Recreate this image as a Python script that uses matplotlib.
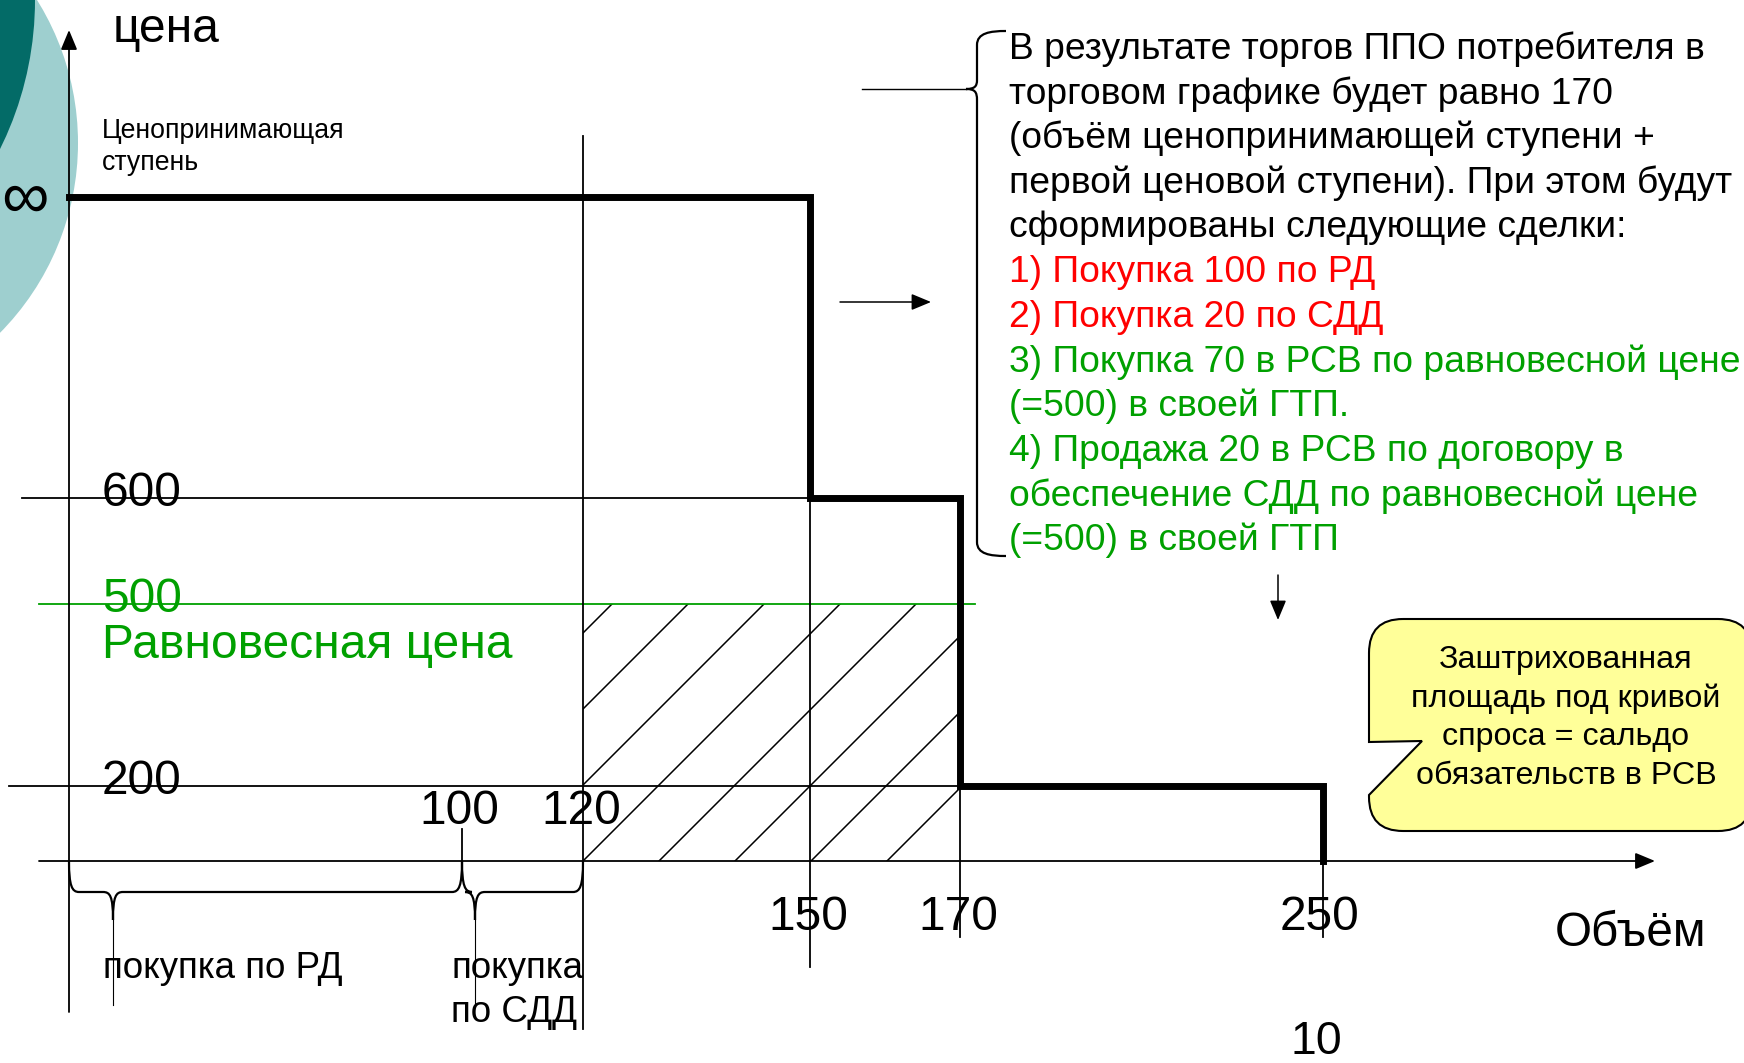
import numpy as np
import matplotlib
matplotlib.use("Agg")
import matplotlib.pyplot as plt
from matplotlib import font_manager
from matplotlib.patches import Circle, PathPatch, Rectangle
from matplotlib.path import Path
from matplotlib.transforms import blended_transform_factory as blend

# ---- data ----
volume_ticks = [100, 120, 150, 170, 250]
step_volumes = [150, 170, 250]       # right edge of each demand step
step_prices = [np.inf, 600, 200]     # first step is the price-taking one
price_ticks = [600, 500, 200]
equilibrium_price = 500
rd_volume = 100
sdd_volume = 20
cleared_volume = 170
INF_AT = 1000                        # where "∞" sits on the price scale

info_lines = [
    ("В результате торгов ППО потребителя в", "k"),
    ("торговом графике будет равно 170", "k"),
    ("(объём ценопринимающей ступени +", "k"),
    ("первой ценовой ступени). При этом будут", "k"),
    ("сформированы следующие сделки:", "k"),
    ("1) Покупка 100 по РД", "red"),
    ("2) Покупка 20 по СДД", "red"),
    ("3) Покупка 70 в РСВ по равновесной цене", "green"),
    ("(=500) в своей ГТП.", "green"),
    ("4) Продажа 20 в РСВ по договору в", "green"),
    ("обеспечение СДД по равновесной цене", "green"),
    ("(=500) в своей ГТП", "green"),
]
callout_lines = ["Заштрихованная", "площадь под кривой",
                 "спроса = сальдо", "обязательств в РСВ"]

# ---- layout ----
W, H = 1744, 1063
X_VAL = [-17.6, 0, 100, 120, 150, 170, 250, 343]
X_PIX = [0, 69, 462, 583, 810, 960, 1323, 1744]
Y_VAL = [-539, 0, 200, 500, 600, INF_AT, 1197]
Y_PIX = [0, 202, 277, 459, 565, 866, 1063]   # measured from the bottom

GREEN = "#00A000"
COLORS = {"k": "black", "red": "#FF0000", "green": GREEN}
NUM_SIZE = 34.5

names = {f.name for f in font_manager.fontManager.ttflist}
plt.rcParams["font.family"] = ["Liberation Sans", "DejaVu Sans"]
if "Liberation Sans Narrow" in names:
    NARROW, NARROW_SIZE = ["Liberation Sans Narrow", "DejaVu Sans"], 32
else:
    NARROW, NARROW_SIZE = ["Liberation Sans", "DejaVu Sans"], 26.5

fig = plt.figure(figsize=(W / 100, H / 100), dpi=100)
ov = fig.add_axes([0, 0, 1, 1])
ov.set_xlim(0, W)
ov.set_ylim(H, 0)
ov.axis("off")

ax = fig.add_axes([0, 0, 1, 1])
ax.patch.set_alpha(0)
ax.set_xscale("function", functions=(lambda v: np.interp(v, X_VAL, X_PIX),
                                     lambda p: np.interp(p, X_PIX, X_VAL)))
ax.set_yscale("function", functions=(lambda v: np.interp(v, Y_VAL, Y_PIX),
                                     lambda p: np.interp(p, Y_PIX, Y_VAL)))
ax.set_xlim(X_VAL[0], X_VAL[-1])
ax.set_ylim(Y_VAL[0], Y_VAL[-1])
ax.axis("off")

vol_px = blend(ax.transData, ov.transData)    # x = volume, y = pixel
px_price = blend(ov.transData, ax.transData)  # x = pixel, y = price

# background circles of the slide template
ov.add_patch(Circle((-192, 143), 270, color="#9ECFCF", lw=0, zorder=0))
ov.add_patch(Circle((-300, 0), 335, color="#036B67", lw=0, zorder=0))

thin = dict(color="black", lw=1.3)
head = "-|>,head_length=0.6,head_width=0.25"

# axes
ax.annotate("", xy=(0, 30), xytext=(0, 1012), xycoords=vol_px, textcoords=vol_px,
            arrowprops=dict(arrowstyle=head, color="black", lw=1.3,
                            shrinkA=0, shrinkB=0, mutation_scale=20))
ax.annotate("", xy=(1655, 0), xytext=(39, 0), xycoords=px_price, textcoords=px_price,
            arrowprops=dict(arrowstyle=head, color="black", lw=1.3,
                            shrinkA=0, shrinkB=0, mutation_scale=20))

# horizontal reference lines
h_extent = {600: (22, 960), 500: (39, 975), 200: (9, 960)}
for p in price_ticks:
    x0, x1 = h_extent[p]
    c = GREEN if p == equilibrium_price else "black"
    ax.plot([x0, x1], [p, p], transform=px_price, color=c, lw=1.3)

# vertical reference lines
v_extent = {100: (829, 861), 120: (136, 1029), 150: (498, 967),
            170: (786, 937), 250: (861, 937)}
for v in volume_ticks:
    y0, y1 = v_extent[v]
    ax.plot([v, v], [y0, y1], transform=vol_px, **thin)

# hatched area: balance of obligations in the day-ahead market
x_start = rd_volume + sdd_volume
rect = Rectangle((x_start, 0), cleared_volume - x_start, equilibrium_price,
                 fill=False, lw=0)
ax.add_patch(rect)
x0_px = np.interp(x_start, X_VAL, X_PIX)
y0_px = H - np.interp(0, Y_VAL, Y_PIX)
for k in range(-6, 6):
    xc = x0_px + 76 * k
    ln, = ov.plot([xc - 500, xc + 500], [y0_px + 500, y0_px - 500],
                  color="black", lw=1.1)
    ln.set_clip_path(rect)

# demand curve
prices = [INF_AT if np.isinf(p) else p for p in step_prices]
xs, ys = [0], [prices[0]]
for i, v in enumerate(step_volumes):
    xs += [v, v]
    ys += [prices[i], prices[i + 1] if i + 1 < len(prices) else 0]
ax.plot(xs, ys, color="black", lw=5, solid_joinstyle="miter", zorder=5)

# tick labels
for p in price_ticks:
    c = GREEN if p == equilibrium_price else "black"
    ax.annotate(str(p), xy=(0, p), xytext=(33, 4), textcoords="offset pixels",
                fontsize=NUM_SIZE, color=c, va="center", ha="left")
ax.annotate("Равновесная цена", xy=(0, equilibrium_price), xytext=(33, -42),
            textcoords="offset pixels", fontsize=NUM_SIZE, color=GREEN,
            va="center", ha="left")
ax.annotate("∞", xy=(0, INF_AT), xytext=(-68, -4), textcoords="offset pixels",
            fontsize=48, ha="left", va="center")

lab_off = {100: (-3, 50), 120: (-2, 50), 150: (-2, -57), 170: (-2, -57),
           250: (-4, -57)}
for v in volume_ticks:
    ax.annotate(str(v), xy=(v, 0), xytext=lab_off[v], textcoords="offset pixels",
                fontsize=NUM_SIZE, ha="center", va="center")

ov.text(113, 29, "цена", fontsize=34.5, ha="left", va="center")
ov.text(1555, 933, "Объём", fontsize=34.3, ha="left", va="center")
ov.text(1316, 1042, "10", fontsize=33.5, ha="center", va="center")
ov.text(102, 138, "Ценопринимающая", fontsize=19.2, ha="left", va="baseline")
ov.text(102, 170, "ступень", fontsize=19.2, ha="left", va="baseline")

ov.text(103, 978, "покупка по РД", fontsize=NARROW_SIZE, family=NARROW,
        ha="left", va="baseline")
ov.text(451, 978, "покупка", fontsize=NARROW_SIZE, family=NARROW,
        ha="left", va="baseline")
ov.text(451, 1022, "по СДД", fontsize=NARROW_SIZE, family=NARROW,
        ha="left", va="baseline")


def hbrace(x0, x1, tip, y_top=861, y_bar=892, y_tip=920, y_end=1005):
    verts = [(x0, y_top), (x0, y_bar - 6), (x0 + 3, y_bar), (x0 + 10, y_bar),
             (tip - 10, y_bar),
             (tip - 3, y_bar), (tip, y_bar + 4), (tip, y_tip),
             (tip, y_bar + 4), (tip + 3, y_bar), (tip + 10, y_bar),
             (x1 - 10, y_bar),
             (x1 - 3, y_bar), (x1, y_bar - 6), (x1, y_top)]
    codes = [Path.MOVETO, Path.CURVE4, Path.CURVE4, Path.CURVE4, Path.LINETO,
             Path.CURVE4, Path.CURVE4, Path.CURVE4,
             Path.CURVE4, Path.CURVE4, Path.CURVE4, Path.LINETO,
             Path.CURVE4, Path.CURVE4, Path.CURVE4]
    ov.add_patch(PathPatch(Path(verts, codes), fill=False, lw=1.6, color="black"))
    ov.plot([tip, tip], [y_tip, y_end], color="black", lw=0.8)


hbrace(X_PIX[1], X_PIX[2], 113)
hbrace(X_PIX[2], X_PIX[3], 475, y_end=1003)

# brace in front of the explanation text
sx, tx, rx = 977, 966, 1006
verts = [(rx, 31), (990, 31), (sx, 33), (sx, 45), (sx, 80),
         (sx, 86), (975, 89), (tx, 89),
         (975, 89), (sx, 92), (sx, 100), (sx, 542),
         (sx, 554), (990, 556), (rx, 556)]
codes = [Path.MOVETO, Path.CURVE4, Path.CURVE4, Path.CURVE4, Path.LINETO,
         Path.CURVE4, Path.CURVE4, Path.CURVE4,
         Path.CURVE4, Path.CURVE4, Path.CURVE4, Path.LINETO,
         Path.CURVE4, Path.CURVE4, Path.CURVE4]
ov.add_patch(PathPatch(Path(verts, codes), fill=False, lw=1.6, color="black"))
ov.plot([862, tx], [89, 89], color="black", lw=1.0)

for i, (line, c) in enumerate(info_lines):
    ov.text(1009, 49 + 44.7 * i, line, fontsize=26.8, color=COLORS[c],
            ha="left", va="center")

arrow = dict(arrowstyle=head, color="black", lw=1.1, shrinkA=0, shrinkB=0,
             mutation_scale=20)
ov.annotate("", xy=(931, 302), xytext=(840, 302), arrowprops=arrow)
ov.annotate("", xy=(1278, 620), xytext=(1278, 575), arrowprops=arrow)

# yellow callout
L, R, T, B, r = 1369, 1752, 619, 831, 34
verts = [(L + r, T), (R - r, T), (R, T), (R, T + r), (R, B - r), (R, B), (R - r, B),
         (L + r, B), (L, B), (L, B - r), (L, 795), (1422, 741), (L, 742),
         (L, T + r), (L, T), (L + r, T)]
codes = [Path.MOVETO, Path.LINETO, Path.CURVE3, Path.CURVE3, Path.LINETO,
         Path.CURVE3, Path.CURVE3, Path.LINETO, Path.CURVE3, Path.CURVE3,
         Path.LINETO, Path.LINETO, Path.LINETO, Path.LINETO,
         Path.CURVE3, Path.CURVE3]
ov.add_patch(PathPatch(Path(verts, codes), facecolor="#FFFF99",
                       edgecolor="black", lw=1.5))
for i, line in enumerate(callout_lines):
    ov.text(1566, 660 + 38.5 * i, line, fontsize=23.2, ha="center", va="center")

fig.savefig("out.png", dpi=100)
